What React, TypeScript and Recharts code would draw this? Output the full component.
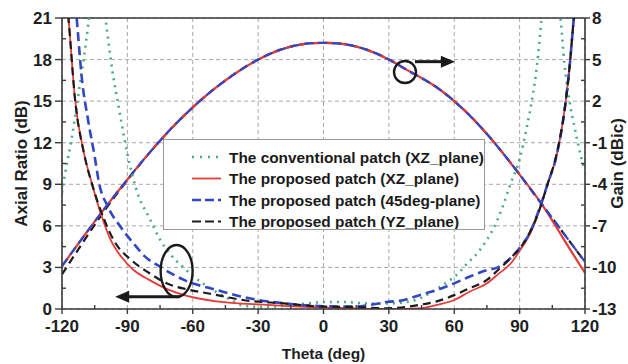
import React from 'react';
import {
  LineChart,
  Line,
  XAxis,
  YAxis,
  CartesianGrid,
  Legend,
  ReferenceLine,
  ReferenceDot,
} from 'recharts';

// ---- axis ticks ----
const thetaTicks = [-120, -90, -60, -30, 0, 30, 60, 90, 120];
const thetaMinor = [-105, -75, -45, -15, 15, 45, 75, 105];
const arTicks = [0, 3, 6, 9, 12, 15, 18, 21];
const arMinor = [1.5, 4.5, 7.5, 10.5, 13.5, 16.5, 19.5];
const gainTicks = [-13, -10, -7, -4, -1, 2, 5, 8];
const gainMinor = [-11.5, -8.5, -5.5, -2.5, 0.5, 3.5, 6.5];

// ---- axial ratio (dB) ----
const convTheta = [-120, -118, -116, -112, -108, -106, -104, -102, -100, -97, -94, -90, -85, -80, -75, -70, -65, -60, -50, -43, -37, -30, -20, -10, 0, 10, 20, 30, 40, 46, 51, 56, 62, 66, 71, 75, 78, 82, 86, 90, 93, 96, 98, 100, 102, 104.5, 107, 109, 110.5, 113, 115.5, 118, 120];
const convAR = [8.4, 10.3, 11.9, 16.0, 20.5, 23.5, 25.0, 23.3, 20.9, 17.3, 14.6, 11.2, 8.2, 6.6, 5.0, 3.9, 3.1, 2.4, 1.3, 0.7, 0.25, 0.15, 0.2, 0.35, 0.5, 0.5, 0.4, 0.4, 0.55, 0.9, 1.35, 1.85, 2.6, 3.3, 4.1, 5.0, 5.8, 7.3, 9.1, 10.8, 12.9, 15.4, 17.6, 20.8, 23.5, 25.0, 23.0, 20.6, 17.8, 14.9, 12.9, 11.1, 10.0];

const xzTheta = [-119, -117, -114, -110, -106, -102, -98, -93, -87, -80, -72, -64, -49, -26, -3, 15, 30, 44, 52, 60, 67, 75, 80, 86, 90, 95, 99, 103, 107, 111, 113, 115, 117];
const xzAR = [24, 20.9, 15.1, 11.3, 8.9, 6.8, 5.1, 3.8, 2.8, 2.1, 1.45, 1.0, 0.55, 0.3, 0.12, 0.04, 0.0, 0.05, 0.3, 0.65, 1.25, 1.85, 2.5, 3.3, 4.2, 5.5, 7.1, 9.1, 11.1, 14.8, 17.6, 21.2, 24];

const d45Theta = [-115, -113, -111, -108, -105, -103, -99, -93, -87, -82, -75, -64, -49, -34, -15, 0, 14, 21, 29, 37, 44, 52, 60, 67, 75, 80, 86, 90, 95, 99, 103, 107, 111, 113, 115, 117];
const d45AR = [24, 20.5, 16.8, 13.6, 11.0, 9.1, 7.4, 5.9, 4.7, 3.8, 3.05, 2.1, 1.37, 0.77, 0.36, 0.2, 0.17, 0.29, 0.5, 0.65, 1.0, 1.37, 1.85, 2.33, 2.8, 3.0, 3.7, 4.4, 5.6, 7.2, 9.1, 11.1, 14.8, 17.6, 21.2, 24];

const yzTheta = [-119, -117, -114, -110, -106, -101, -96, -88, -80, -72, -62, -52, -37, -18, 0, 14, 29, 44, 52, 60, 67, 75, 80, 86, 92, 98, 103, 107, 111, 113, 115, 117];
const yzAR = [24, 20.9, 15.1, 11.3, 8.9, 6.6, 4.9, 3.5, 2.6, 1.85, 1.4, 1.1, 0.65, 0.4, 0.17, 0.15, 0.05, 0.3, 0.55, 1.0, 1.5, 2.1, 2.8, 3.7, 4.8, 6.7, 9.1, 11.2, 14.8, 17.6, 21.2, 24];

// ---- gain (dBic) ----
const gainTheta = [-120, -110, -100, -90, -80, -70, -60, -50, -40, -30, -20, -10, 0, 10, 20, 30, 40, 50, 60, 70, 80, 90, 100, 110, 120];
const xzGain = [-9.9, -7.75, -5.65, -3.65, -1.75, 0.0, 1.55, 2.9, 4.05, 5.0, 5.7, 6.1, 6.2, 6.1, 5.7, 5.0, 4.1, 3.2, 2.0, 0.5, -1.3, -3.3, -5.4, -7.9, -10.4];
const d45Gain = [-9.9, -7.75, -5.65, -3.65, -1.75, 0.0, 1.55, 2.9, 4.05, 5.0, 5.7, 6.1, 6.2, 6.1, 5.7, 5.0, 4.1, 3.2, 2.0, 0.5, -1.3, -3.3, -5.4, -7.5, -9.6];
const yzGain = [-10.5, -8.1, -5.8, -3.7, -1.75, 0.0, 1.55, 2.9, 4.05, 5.0, 5.7, 6.1, 6.2, 6.1, 5.7, 5.0, 4.1, 3.2, 2.0, 0.5, -1.3, -3.3, -5.4, -7.5, -9.6];

// ---- legend labels ----
const legendNames = [
  'The conventional patch (XZ_plane)',
  'The proposed patch (XZ_plane)',
  'The proposed patch (45deg-plane)',
  'The proposed patch (YZ_plane)',
];

const toPoints = (thetas: number[], values: number[]) =>
  thetas.map((t, i) => ({ theta: t, v: values[i] }));

const FONT = "'Liberation Sans', Arial, Helvetica, sans-serif";
const AXIS = '#3a3a3a';

const styles = [
  { color: '#49ad7e', dash: '2 5', width: 2.6 },
  { color: '#e53a35', dash: undefined, width: 1.8 },
  { color: '#3346c4', dash: '9 5', width: 2.6 },
  { color: '#1c1c1c', dash: '8 5', width: 2.2 },
];

const arSeries = [
  toPoints(convTheta, convAR),
  toPoints(xzTheta, xzAR),
  toPoints(d45Theta, d45AR),
  toPoints(yzTheta, yzAR),
];

const gainSeries = [
  { data: toPoints(gainTheta, yzGain), style: styles[3] },
  { data: toPoints(gainTheta, xzGain), style: styles[1] },
  { data: toPoints(gainTheta, d45Gain), style: styles[2] },
];

const LegendBox = () => (
  <div
    style={{
      width: 322,
      height: 91,
      background: '#fff',
      border: '1px solid #9a9a9a',
      boxSizing: 'border-box',
    }}
  >
    <svg width={320} height={89}>
      {legendNames.map((name, i) => {
        const y = 17 + i * 21.5;
        const s = styles[i];
        return (
          <g key={name}>
            <line
              x1={28}
              x2={57}
              y1={y}
              y2={y}
              stroke={s.color}
              strokeWidth={s.width}
              strokeDasharray={i === 0 ? '2 6' : i === 1 ? undefined : '9 4'}
            />
            <text
              x={65}
              y={y + 5.5}
              fontFamily={FONT}
              fontWeight="bold"
              fontSize={15.4}
              fill="#1a1a1a"
            >
              {name}
            </text>
          </g>
        );
      })}
    </svg>
  </div>
);

const Arrow = (p: any) => {
  const { x1, y1, x2, y2 } = p;
  const dx = x2 - x1;
  const dy = y2 - y1;
  const len = Math.hypot(dx, dy) || 1;
  const ux = dx / len;
  const uy = dy / len;
  const hl = 14;
  const hw = 6;
  const bx = x2 - ux * hl;
  const by = y2 - uy * hl;
  return (
    <g>
      <line x1={x1} y1={y1} x2={bx + ux} y2={by + uy} stroke="#1a1a1a" strokeWidth={3} />
      <polygon
        points={`${x2},${y2} ${bx - uy * hw},${by + ux * hw} ${bx + uy * hw},${by - ux * hw}`}
        fill="#1a1a1a"
      />
    </g>
  );
};

const tickStyle = { fontSize: 17, fontWeight: 'bold', fill: '#1e1e1e', fontFamily: FONT };

export default function App() {
  return (
    <div style={{ position: 'absolute', left: 0, top: 0, background: '#fff' }}>
      <LineChart
        width={628}
        height={364}
        margin={{ top: 18, right: 0, bottom: 0, left: 0 }}
      >
        <CartesianGrid
          yAxisId="left"
          stroke="#a8a8a8"
          strokeDasharray="4 3"
          strokeWidth={1}
        />
        <XAxis
          dataKey="theta"
          type="number"
          domain={[-120, 120]}
          ticks={thetaTicks}
          interval={0}
          allowDataOverflow
          height={55}
          tickSize={5}
          tickMargin={6}
          tick={tickStyle}
          axisLine={{ stroke: AXIS, strokeWidth: 1.6 }}
          tickLine={{ stroke: AXIS, strokeWidth: 1.4 }}
          label={{
            value: 'Theta (deg)',
            position: 'insideBottom',
            offset: 5,
            style: { fontSize: 15.5, fontWeight: 'bold', fill: '#1e1e1e', fontFamily: FONT },
          }}
        />
        <YAxis
          yAxisId="left"
          type="number"
          domain={[0, 21]}
          ticks={arTicks}
          interval={0}
          allowDataOverflow
          width={62}
          tickSize={7}
          tickMargin={3}
          tick={tickStyle}
          axisLine={{ stroke: AXIS, strokeWidth: 1.6 }}
          tickLine={{ stroke: AXIS, strokeWidth: 1.4 }}
          label={{
            value: 'Axial Ratio (dB)',
            angle: -90,
            position: 'insideLeft',
            offset: 21,
            style: { textAnchor: 'middle', fontSize: 17, fontWeight: 'bold', fill: '#1e1e1e', fontFamily: FONT },
          }}
        />
        <YAxis
          yAxisId="right"
          orientation="right"
          type="number"
          domain={[-13, 8]}
          ticks={gainTicks}
          interval={0}
          allowDataOverflow
          width={43}
          tickSize={5}
          tickMargin={2}
          tick={tickStyle}
          axisLine={{ stroke: AXIS, strokeWidth: 1.6 }}
          tickLine={{ stroke: AXIS, strokeWidth: 1.4 }}
          label={{
            value: 'Gain (dBic)',
            angle: -90,
            position: 'insideRight',
            offset: 11,
            style: { textAnchor: 'middle', fontSize: 17, fontWeight: 'bold', fill: '#1e1e1e', fontFamily: FONT },
          }}
        />

        {/* frame top edge */}
        <ReferenceLine yAxisId="left" y={21} stroke={AXIS} strokeWidth={1.6} />

        {/* minor ticks, drawn inward */}
        {thetaMinor.map((t) => (
          <ReferenceDot
            key={`xm${t}`}
            yAxisId="left"
            x={t}
            y={0}
            r={0}
            shape={(p: any) => (
              <line x1={p.cx} x2={p.cx} y1={p.cy} y2={p.cy - 4} stroke={AXIS} strokeWidth={1.4} />
            )}
          />
        ))}
        {arMinor.map((m) => (
          <ReferenceDot
            key={`lm${m}`}
            yAxisId="left"
            x={-120}
            y={m}
            r={0}
            shape={(p: any) => (
              <line x1={p.cx} x2={p.cx + 4} y1={p.cy} y2={p.cy} stroke={AXIS} strokeWidth={1.4} />
            )}
          />
        ))}
        {gainMinor.map((m) => (
          <ReferenceDot
            key={`rm${m}`}
            yAxisId="right"
            x={120}
            y={m}
            r={0}
            shape={(p: any) => (
              <line x1={p.cx - 4} x2={p.cx} y1={p.cy} y2={p.cy} stroke={AXIS} strokeWidth={1.4} />
            )}
          />
        ))}

        {/* gain curves */}
        {gainSeries.map((g, i) => (
          <Line
            key={`gain${i}`}
            yAxisId="right"
            data={g.data}
            dataKey="v"
            type="natural"
            stroke={g.style.color}
            strokeWidth={2.2}
            strokeDasharray={g.style.dash}
            dot={false}
            activeDot={false}
            legendType="none"
            isAnimationActive={false}
          />
        ))}

        {/* axial ratio curves */}
        {arSeries.map((data, i) => (
          <Line
            key={`ar${i}`}
            yAxisId="left"
            data={data}
            dataKey="v"
            name={legendNames[i]}
            type="monotone"
            stroke={styles[i].color}
            strokeWidth={styles[i].width}
            strokeDasharray={styles[i].dash}
            dot={false}
            activeDot={false}
            isAnimationActive={false}
          />
        ))}

        {/* curve-to-axis indicators */}
        <ReferenceDot
          yAxisId="left"
          x={-67.4}
          y={2.74}
          r={0}
          shape={(p: any) => (
            <ellipse cx={p.cx} cy={p.cy} rx={16} ry={26} fill="none" stroke="#1a1a1a" strokeWidth={2.4} />
          )}
        />
        <ReferenceLine
          yAxisId="left"
          segment={[
            { x: -66, y: 0.89 },
            { x: -95.6, y: 0.89 },
          ]}
          shape={Arrow}
        />
        <ReferenceDot
          yAxisId="right"
          x={37.4}
          y={4.1}
          r={0}
          shape={(p: any) => (
            <circle cx={p.cx} cy={p.cy} r={11} fill="none" stroke="#1a1a1a" strokeWidth={2.4} />
          )}
        />
        <ReferenceLine
          yAxisId="right"
          segment={[
            { x: 42, y: 4.85 },
            { x: 60.3, y: 4.85 },
          ]}
          shape={Arrow}
        />

        <Legend
          layout="horizontal"
          verticalAlign="middle"
          align="center"
          wrapperStyle={{ left: 163, top: 139, width: 322, height: 91 }}
          content={() => <LegendBox />}
        />
      </LineChart>
    </div>
  );
}
